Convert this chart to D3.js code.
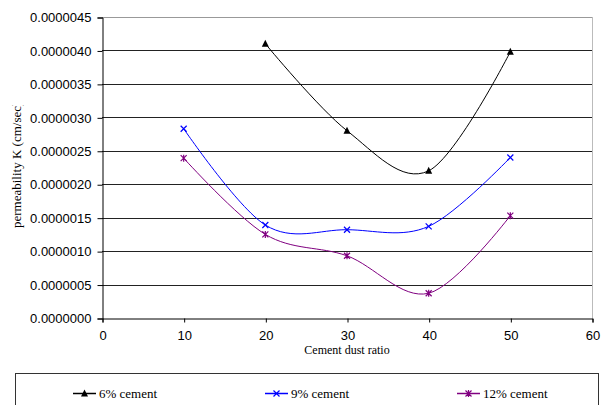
<!DOCTYPE html>
<html><head><meta charset="utf-8">
<script src="https://cdn.jsdelivr.net/npm/d3@7"></script>
<style>body{margin:0;background:#fff}svg{display:block}</style>
</head><body><svg id="c" width="601" height="405"></svg>
<script>
const xTicks = [0,10,20,30,40,50,60];
const yTicks = [0,0.0000005,0.000001,0.0000015,0.000002,0.0000025,0.000003,0.0000035,0.000004,0.0000045];
const x6 = [20,30,40,50];
const k6 = [0.0000041,0.0000028,0.0000022,0.00000398];
const x9 = [10,20,30,40,50];
const k9 = [0.00000283,0.00000139,0.00000132,0.00000137,0.0000024];
const x12 = [10,20,30,40,50];
const k12 = [0.00000239,0.00000125,0.00000093,0.00000037,0.00000153];
const seriesNames = ["6% cement","9% cement","12% cement"];
const seriesColors = ["#000000","#0000ff","#800080"];
const seriesMarkers = ["tri","x","star"];

const svg = d3.select("#c");
const L=102, R=592, T=17, B=318;
const x = d3.scaleLinear().domain([0,60]).range([L,R]);
const y = d3.scaleLinear().domain([0,0.0000045]).range([B,T]);

// gridlines
svg.append("g").selectAll("line").data(yTicks.slice(1)).join("line")
  .attr("x1",L).attr("x2",R).attr("y1",d=>Math.round(y(d))+0.5).attr("y2",d=>Math.round(y(d))+0.5)
  .attr("stroke",d=>d===0.0000045?"#999":"#222").attr("stroke-width",1);
// right border
svg.append("line").attr("x1",R+0.5).attr("x2",R+0.5).attr("y1",T).attr("y2",B).attr("stroke","#bbb");

// axes
const yAx = svg.append("g").attr("transform",`translate(${L+0.5},0.5)`)
  .call(d3.axisLeft(y).tickValues(yTicks).tickFormat(d=>d.toFixed(7)).tickSizeOuter(0).tickSize(5).tickPadding(6));
const xAx = svg.append("g").attr("transform",`translate(0.5,${B+0.5})`)
  .call(d3.axisBottom(x).tickValues(xTicks).tickFormat(d3.format("d")).tickSizeOuter(0).tickSize(4).tickPadding(8));
[yAx,xAx].forEach(g=>{
  g.selectAll("text").attr("font-family","'Liberation Sans',Arial,sans-serif").attr("font-size",13).attr("fill","#000");
  g.selectAll("line,path").attr("stroke","#000");
});

// titles
svg.append("text").attr("x",(L+R)/2).attr("y",354).attr("text-anchor","middle")
  .attr("font-family","'Liberation Serif','Times New Roman',serif").attr("font-size",12).text("Cement dust ratio");
svg.append("clipPath").attr("id","yt").append("rect").attr("x",0).attr("y",105).attr("width",40).attr("height",200);
svg.append("g").attr("clip-path","url(#yt)").append("text")
  .attr("transform","translate(21,228) rotate(-90)")
  .attr("font-family","'Liberation Serif','Times New Roman',serif").attr("font-size",13).text("permeability K (cm/sec)");

function marker(g, type, color, cx, cy){
  if(type==="tri"){
    g.append("path").attr("d",`M${cx},${cy-4}L${cx+3.5},${cy+3}L${cx-3.5},${cy+3}Z`).attr("fill",color);
  } else if(type==="x"){
    g.append("path").attr("d",`M${cx-3},${cy-3}L${cx+3},${cy+3}M${cx-3},${cy+3}L${cx+3},${cy-3}`).attr("stroke",color).attr("stroke-width",1.2);
  } else {
    g.append("path").attr("d",`M${cx-3},${cy-3}L${cx+3},${cy+3}M${cx-3},${cy+3}L${cx+3},${cy-3}M${cx},${cy-3.5}L${cx},${cy+3.5}`).attr("stroke",color).attr("stroke-width",1.2);
  }
}

const line = d3.line().x(d=>x(d[0])).y(d=>y(d[1])).curve(d3.curveCardinal.tension(0));
const allSeries = [[x6,k6],[x9,k9],[x12,k12]];
allSeries.forEach(([xs,ks],i)=>{
  const pts = xs.map((v,j)=>[v,ks[j]]);
  svg.append("path").attr("d",line(pts)).attr("fill","none").attr("stroke",seriesColors[i]).attr("stroke-width",1);
  const g = svg.append("g");
  pts.forEach(p=>marker(g, seriesMarkers[i], seriesColors[i], x(p[0]), y(p[1])));
});

// legend
svg.append("rect").attr("x",15.5).attr("y",373.5).attr("width",583).attr("height",40).attr("fill","none").attr("stroke","#333");
const legX = [73,265,457];
seriesNames.forEach((n,i)=>{
  const g = svg.append("g");
  g.append("line").attr("x1",legX[i]).attr("x2",legX[i]+23).attr("y1",393.5).attr("y2",393.5).attr("stroke",seriesColors[i]).attr("stroke-width",1.5);
  marker(g, seriesMarkers[i], seriesColors[i], legX[i]+11.5, 393.5);
  g.append("text").attr("x",legX[i]+26).attr("y",397.5)
    .attr("font-family","'Liberation Serif','Times New Roman',serif").attr("font-size",13).text(n);
});
</script></body></html>
